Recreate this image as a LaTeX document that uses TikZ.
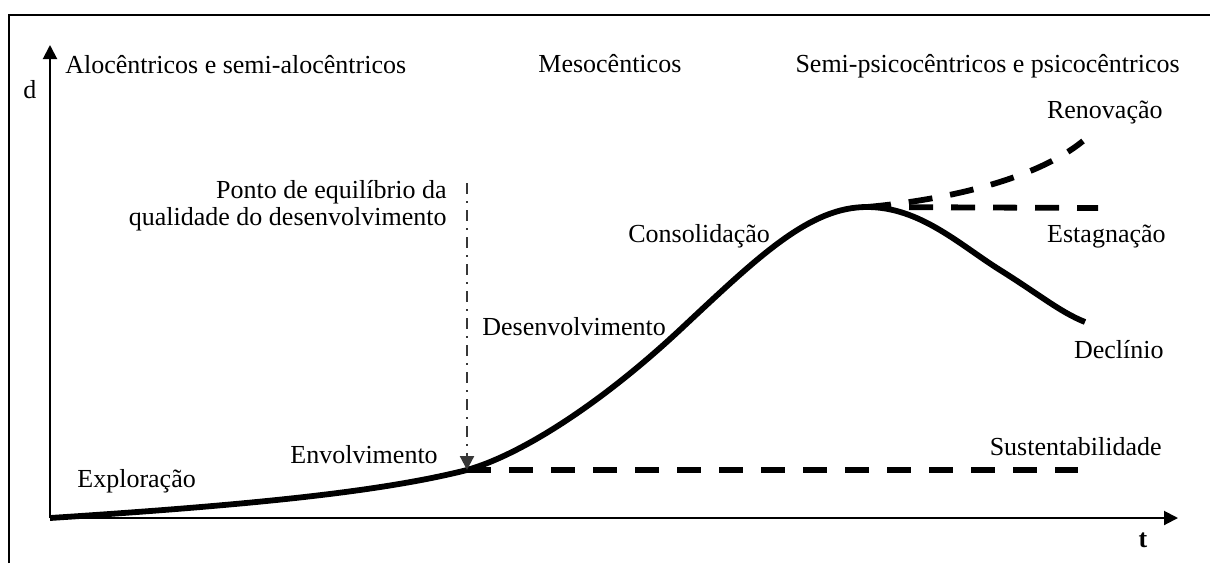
\documentclass[tikz,border=0pt]{standalone}
\usepackage{fontspec}
\setmainfont{Liberation Serif}
\usetikzlibrary{arrows.meta}
\definecolor{pointgray}{RGB}{55,55,55}
\begin{document}
\begin{tikzpicture}[
  x=0.5pt, y=-0.5pt,
  every node/.style={inner sep=0pt, font=\fontsize{13}{13.5}\selectfont},
  axis/.style={line width=1pt, -{Triangle[length=7pt,width=7pt]}},
  curve/.style={line width=2.9pt},
  trend/.style={line width=2.9pt, dash pattern=on 12pt off 9pt},
  marker/.style={pointgray, line width=1.1pt, dash pattern=on 5.5pt off 3.5pt on 1pt off 3.5pt,
    -{Triangle[length=7pt,width=7pt]}}
]
\useasboundingbox (0,0) rectangle (1210,563);
% frame
\draw[line width=0.8pt] (9,563) |- (1210,15);

% axes
\coordinate (O) at (50,518);
\coordinate (ytip) at (50,45);
\coordinate (xtip) at (1178,518);
\draw[axis] (O) -- (ytip);
\draw[axis] (O) -- (xtip);
\node (d) at (30,90) {d};
\node[anchor=base] (t) at (1143,547) {\bfseries t};

% groups
\node[anchor=base west] (alo) at (65,73) {Alocêntricos e semi-alocêntricos};
\node[anchor=base west] (meso) at (538,72) {Mesocênticos};
\node[anchor=base east] (psico) at (1180,72) {Semi-psicocêntricos e psicocêntricos};

% key points
\coordinate (eq) at (467,470);
\coordinate (peak) at (867,207);
\coordinate (eqtop) at (467,183);
\coordinate (sust) at (1078,470);
\coordinate (stag) at (1098,208);
\coordinate (decl end) at (1085,322);
\coordinate (reno end) at (1083,141);

% life cycle
\draw[curve] (O) .. controls (250,505) and (380,492) .. (eq)
  .. controls (520,455) and (600,405) .. (683,327)
  .. controls (760,255) and (810,207) .. (peak)
  .. controls (920,207) and (960,245) .. (1000,270)
  .. controls (1040,295) and (1060,312) .. (decl end);
\draw[trend] (peak) .. controls (945,200) and (1035,180) .. (reno end);
\draw[trend] (peak) -- (stag);
\draw[trend] (eq) -- (sust);
\draw[marker] (eqtop) -- (eq);

% stages
\node[anchor=base west] (expl) at (77,487) {Exploração};
\node[anchor=base west] (envo) at (290,463) {Envolvimento};
\node[anchor=base east, align=right] (ponto) at (447,225)
  {Ponto de equilíbrio da\\qualidade do desenvolvimento};
\node[anchor=base west] (dese) at (482,335) {Desenvolvimento};
\node[anchor=base west] (cons) at (628,242) {Consolidação};
\node[anchor=base east] (reno) at (1163,118) {Renovação};
\node[anchor=base east] (esta) at (1166,242) {Estagnação};
\node[anchor=base east] (decl) at (1164,358) {Declínio};
\node[anchor=base east] (sustl) at (1162,455) {Sustentabilidade};
\end{tikzpicture}
\end{document}
